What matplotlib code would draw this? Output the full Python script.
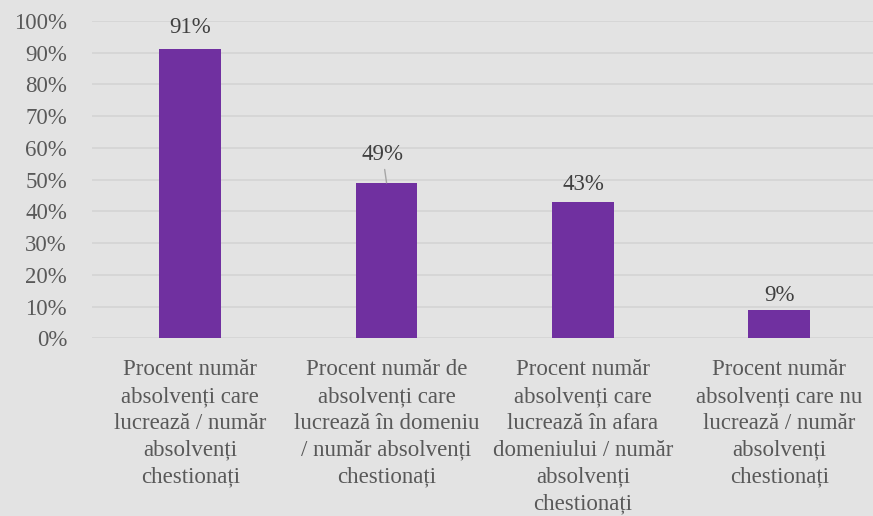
import matplotlib.pyplot as plt
from matplotlib.ticker import PercentFormatter

categories = [
    "Procent număr\nabsolvenți care\nlucrează / număr\nabsolvenți\nchestionați",
    "Procent număr de\nabsolvenți care\nlucrează în domeniu\n/ număr absolvenți\nchestionați",
    "Procent număr\nabsolvenți care\nlucrează în afara\ndomeniului / număr\nabsolvenți\nchestionați",
    "Procent număr\nabsolvenți care nu\nlucrează / număr\nabsolvenți\nchestionați",
]
values = [91, 49, 43, 9]
labels = ["91%", "49%", "43%", "9%"]
yticks = list(range(0, 101, 10))

plt.rcParams['font.family'] = ['Liberation Serif', 'DejaVu Serif']
BG = '#e3e3e3'
BAR = '#7030a0'
TXT = '#595959'
FS = 16.5

fig = plt.figure(figsize=(8.73, 5.16), dpi=100, facecolor=BG)
ax = fig.add_axes([92 / 873, 1 - 338.4 / 516, 1 - 92 / 873, (338.4 - 20.9) / 516])
ax.set_facecolor(BG)

x = range(len(values))
bars = ax.bar(x, values, width=0.315, color=BAR, zorder=3)

ax.set_ylim(0, 100)
ax.set_xlim(-0.5, 3.477)
ax.set_yticks(yticks)
ax.yaxis.set_major_formatter(PercentFormatter(decimals=0))
ax.grid(axis='y', color='#d4d4d4', linewidth=1.2, zorder=0)
for s in ax.spines.values():
    s.set_visible(False)
ax.tick_params(length=0, labelsize=FS, colors=TXT)
ax.tick_params(axis='x', pad=15)
ax.tick_params(axis='y', pad=18)
ax.set_xticks(list(x))
ax.set_xticklabels(categories, fontsize=FS, color=TXT, linespacing=1.36, va='top',
                   family=['Liberation Serif', 'DejaVu Serif'])
for lbl in ax.get_yticklabels():
    lbl.set_horizontalalignment('right')

# data labels; 49% sits higher with a leader line
offsets = [22, 28, 17, 14]
for i, (v, t) in enumerate(zip(values, labels)):
    if i == 1:
        ax.annotate(t, xy=(i, v), xytext=(-4, offsets[i]), textcoords='offset pixels',
                    ha='center', va='center', fontsize=FS, color='#404040',
                    arrowprops=dict(arrowstyle='-', color='#a6a6a6', lw=1,
                                    shrinkA=1, shrinkB=0))
    else:
        ax.annotate(t, xy=(i, v), xytext=(0, offsets[i]), textcoords='offset pixels',
                    ha='center', va='center', fontsize=FS, color='#404040')

fig.savefig('out.png', dpi=100, facecolor=BG)
